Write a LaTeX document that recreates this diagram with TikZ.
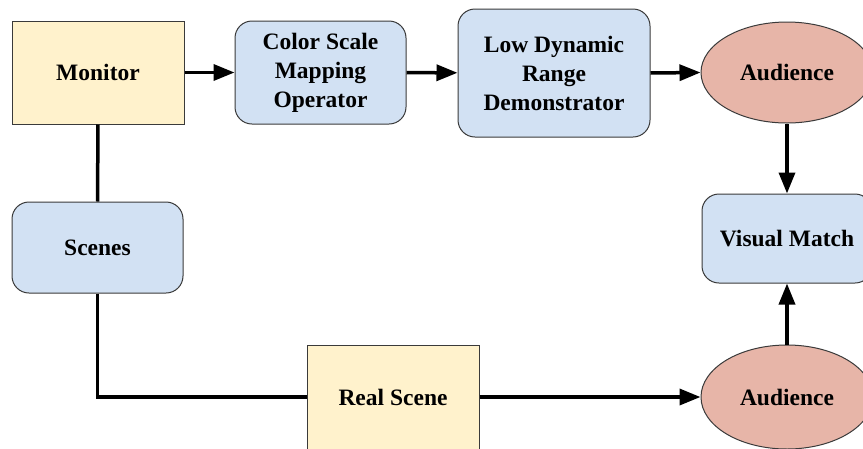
\documentclass[tikz,border=0pt]{standalone}
\usepackage{fontspec}
\setmainfont{Liberation Serif}[BoldFont={Liberation Serif Bold}]
\usetikzlibrary{arrows.meta,shapes.geometric}
\definecolor{yel}{HTML}{FFF2CC}
\definecolor{blu}{HTML}{D2E1F3}
\definecolor{pnk}{HTML}{E7B5A8}
\definecolor{edge}{HTML}{3A3A3A}
\begin{document}
\begin{tikzpicture}[x=1pt,y=-1pt,
  base/.style={draw=edge,line width=1pt,inner sep=0pt,align=center,
    font=\fontsize{23.5}{29}\selectfont\bfseries,text=black},
  ybox/.style={base,rectangle,fill=yel},
  bbox/.style={base,rectangle,rounded corners=17pt,fill=blu},
  ell/.style={base,ellipse,fill=pnk},
  conn/.style={line width=3.5pt,black},
  arr/.style={conn,-{Triangle[length=21pt,width=16pt]}}]
\useasboundingbox (0,0) rectangle (863,448);
\node[ybox,minimum width=172pt,minimum height=103pt] (mon) at (98,72.5) {Monitor};
\node[bbox,minimum width=171pt,minimum height=103pt] (csm) at (320.5,72.5) {Color Scale\\Mapping\\Operator};
\node[bbox,minimum width=192pt,minimum height=128pt] (ldr) at (554,73) {Low Dynamic\\Range\\Demonstrator};
\node[ell,minimum width=172pt,minimum height=101pt] (aud1) at (787,72.5) {Audience};
\node[bbox,minimum width=170pt,minimum height=89pt] (vm) at (787,238.5) {Visual Match};
\node[bbox,minimum width=171pt,minimum height=91pt] (sc) at (97.5,247.5) {Scenes};
\node[ybox,minimum width=172pt,minimum height=104pt] (rs) at (393,397) {Real Scene};
\node[ell,minimum width=172pt,minimum height=104pt] (aud2) at (787,397) {Audience};
\coordinate (corner) at (sc.south |- rs.west);
\draw[arr] (mon) -- (csm);
\draw[arr] (csm) -- (ldr);
\draw[arr] (ldr.east) -- (aud1.west);
\draw[arr] (aud1) -- (vm);
\draw[arr] (aud2) -- (vm);
\draw[conn] (mon.south) -- (sc.north);
\draw[conn] (sc.south) -- (corner) -- (rs.west);
\draw[arr] (rs.east) -- (aud2.west);
\end{tikzpicture}
\end{document}
